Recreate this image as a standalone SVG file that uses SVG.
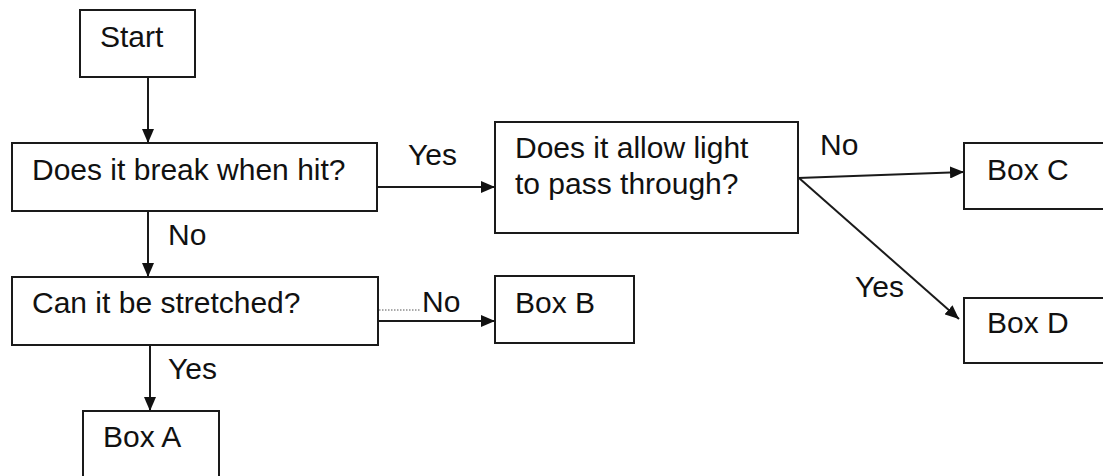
<svg xmlns="http://www.w3.org/2000/svg" width="1103" height="476" viewBox="0 0 1103 476">
<defs>
<marker id="ah" markerWidth="14" markerHeight="12" refX="14" refY="6" orient="auto" markerUnits="userSpaceOnUse" viewBox="0 0 14 12">
<path d="M0,0 L14,6 L0,12 Z" fill="#111"/>
</marker>
<style>
.box{fill:#fff;stroke:#1a1a1a;stroke-width:2}
.t{font-family:"Liberation Sans",Arial,sans-serif;font-size:30px;fill:#111}
.c{stroke:#1a1a1a;stroke-width:2;fill:none;marker-end:url(#ah)}
</style>
</defs>
<rect width="1103" height="476" fill="#fff"/>
<g id="connectors">
<line class="c" x1="148" y1="77" x2="148" y2="143"/>
<line class="c" x1="377" y1="187" x2="495" y2="187"/>
<line class="c" x1="798" y1="178" x2="964" y2="172"/>
<line class="c" x1="799" y1="178" x2="959" y2="319"/>
<line class="c" x1="148" y1="211" x2="148" y2="277"/>
<line class="c" x1="378" y1="321" x2="495" y2="321"/>
<line x1="370" y1="310" x2="421" y2="310" stroke="#555" stroke-width="1" stroke-dasharray="1.5,1.5"/>
<line class="c" x1="150" y1="345" x2="150" y2="411"/>
<text class="t" x="408" y="165">Yes</text>
<text class="t" x="820" y="155">No</text>
<text class="t" x="855" y="297">Yes</text>
<text class="t" x="168" y="245">No</text>
<text class="t" x="422" y="312">No</text>
<text class="t" x="168" y="379">Yes</text>
</g>
<g id="start"><rect class="box" x="80" y="10" width="115" height="67"/><text class="t" x="100" y="47">Start</text></g>
<g id="q1"><rect class="box" x="12" y="143" width="365" height="68"/><text class="t" x="32" y="180">Does it break when hit?</text></g>
<g id="q2"><rect class="box" x="495" y="122" width="303" height="111"/><text class="t" x="515" y="158">Does it allow light</text><text class="t" x="515" y="194">to pass through?</text></g>
<g id="boxC"><rect class="box" x="964" y="143" width="145" height="66"/><text class="t" x="987" y="180">Box C</text></g>
<g id="boxD"><rect class="box" x="964" y="298" width="145" height="65"/><text class="t" x="987" y="333">Box D</text></g>
<g id="q3"><rect class="box" x="12" y="277" width="366" height="68"/><text class="t" x="32" y="313">Can it be stretched?</text></g>
<g id="boxB"><rect class="box" x="495" y="276" width="139" height="67"/><text class="t" x="515" y="313">Box B</text></g>
<g id="boxA"><rect class="box" x="83" y="411" width="136" height="70"/><text class="t" x="103" y="447">Box A</text></g>
</svg>
